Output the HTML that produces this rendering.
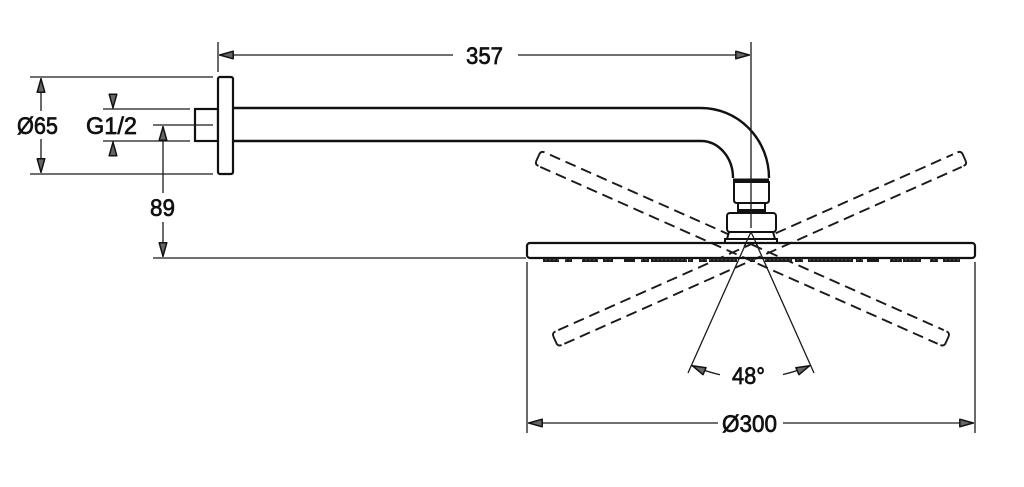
<!DOCTYPE html>
<html><head><meta charset="utf-8"><style>
html,body{margin:0;padding:0;background:#fff;}
svg{display:block;}
text{font-family:"Liberation Sans",sans-serif;font-size:24px;fill:#111;stroke:#111;stroke-width:0.7;}
</style></head><body>
<svg width="1024" height="487" viewBox="0 0 1024 487" xmlns="http://www.w3.org/2000/svg">
<defs>
<marker id="ar" viewBox="0 0 15 10" refX="15" refY="5" markerWidth="15" markerHeight="10" markerUnits="userSpaceOnUse" orient="auto-start-reverse">
<path d="M0.8,1.2 L14.2,5 L0.8,8.8 Z" fill="#666" stroke="#111" stroke-width="1.5" stroke-linejoin="round"/>
</marker>
<pattern id="nz" width="4" height="4" patternUnits="userSpaceOnUse" x="0" y="258">
<rect width="4" height="4" fill="#1a1a1a"/>
<rect x="1.5" y="1.3" width="1" height="1" fill="#999"/>
</pattern>
</defs>
<rect width="1024" height="487" fill="#fff"/>

<!-- dimension/extension lines -->
<g stroke="#1a1a1a" stroke-width="1.3" fill="none">
  <!-- 357 -->
  <line x1="218" y1="42" x2="218" y2="72"/>
  <line x1="751" y1="42" x2="751" y2="106"/>
  <path d="M453,55 L219,55" marker-end="url(#ar)"/>
  <path d="M518,55 L750,55" marker-end="url(#ar)"/>
  <!-- Ø65 -->
  <line x1="30" y1="77" x2="213" y2="77"/>
  <line x1="30" y1="174" x2="213" y2="174"/>
  <path d="M41,111 L41,78" marker-end="url(#ar)"/>
  <path d="M41,139 L41,173" marker-end="url(#ar)"/>
  <!-- G1/2 -->
  <line x1="103" y1="109" x2="190" y2="109"/>
  <line x1="103" y1="141" x2="190" y2="141"/>
  <path d="M113,95 L113,108.5" marker-end="url(#ar)"/>
  <path d="M113,155 L113,141.5" marker-end="url(#ar)"/>
  <!-- 89 -->
  <path d="M163,193 L163,126" marker-end="url(#ar)"/>
  <path d="M163,222 L163,257" marker-end="url(#ar)"/>
  <line x1="153" y1="258" x2="526" y2="258"/>
  <!-- Ø300 -->
  <line x1="527" y1="262" x2="527" y2="433"/>
  <line x1="975" y1="262" x2="975" y2="433"/>
  <path d="M718,423 L528,423" marker-end="url(#ar)"/>
  <path d="M783,423 L974,423" marker-end="url(#ar)"/>
  <!-- 48° -->
  <line x1="751" y1="232" x2="688" y2="373"/>
  <line x1="751" y1="232" x2="814" y2="373"/>
  <path d="M720,374.7 A146,146 0 0 1 691.6,365.4" marker-end="url(#ar)"/>
  <path d="M783,374.5 A146,146 0 0 0 810.4,365.4" marker-end="url(#ar)"/>
</g>

<!-- dashed tilted plates -->
<g stroke="#1a1a1a" stroke-width="1.9" fill="none">
  <g transform="rotate(24 751 229.5)">
    <line x1="537" y1="243" x2="968" y2="243" stroke-dasharray="11 6"/>
    <line x1="533" y1="258" x2="968" y2="258" stroke-dasharray="11 6"/>
    <path d="M531,243 Q527,243 527,247 L527,254 Q527,258 531,258"/>
    <path d="M971,243 Q975,243 975,247 L975,254 Q975,258 971,258"/>
  </g>
  <g transform="rotate(-24 751 229.5)">
    <line x1="534" y1="243" x2="966" y2="243" stroke-dasharray="11 6"/>
    <line x1="534" y1="258" x2="969" y2="258" stroke-dasharray="11 6"/>
    <path d="M531,243 Q527,243 527,247 L527,254 Q527,258 531,258"/>
    <path d="M971,243 Q975,243 975,247 L975,254 Q975,258 971,258"/>
  </g>
</g>

<!-- wall part and arm -->
<g stroke="#111" stroke-width="2.2" fill="#fff">
  <rect x="195" y="109" width="23" height="32"/>
  <rect x="218" y="77" width="15" height="97" rx="2"/>
</g>
<g stroke="#111" stroke-width="2.4" fill="none">
  <path d="M233,108 L701,108 A68,70 0 0 1 769,178"/>
  <path d="M233,141 L701,141 A32,37 0 0 1 733,178"/>
</g>
<line x1="153" y1="125" x2="213" y2="125" stroke="#1a1a1a" stroke-width="1.3"/>

<!-- connector -->
<g stroke="#111" stroke-width="2" fill="#fff">
  <path d="M729,232 L727,239 L775,239 L773,232 Z"/>
  <rect x="725" y="239" width="52" height="4"/>
  <path d="M734,182 L769,182 L769,200 Q769,203 766,203 L737,203 Q734,203 734,200 Z"/>
  <rect x="738" y="203" width="27" height="9"/>
  <rect x="727" y="213" width="49" height="19" rx="3"/>
</g>
<rect x="733" y="178.5" width="36" height="4" fill="#111"/>
<rect x="738" y="209" width="27" height="3.5" fill="#111"/>
<line x1="751" y1="106" x2="751" y2="228" stroke="#1a1a1a" stroke-width="1.3"/>
<line x1="751" y1="232" x2="744" y2="247" stroke="#1a1a1a" stroke-width="1.3"/>
<line x1="751" y1="232" x2="758" y2="247" stroke="#1a1a1a" stroke-width="1.3"/>

<!-- shower plate -->
<rect x="527" y="243" width="448" height="15" rx="3" fill="none" stroke="#111" stroke-width="2.2"/>

<!-- nozzles -->
<g fill="url(#nz)">
  <rect x="543" y="258" width="16" height="4"/>
  <rect x="565" y="258" width="7" height="4"/>
  <rect x="582" y="258" width="16" height="4"/>
  <rect x="603" y="258" width="10" height="4"/>
  <rect x="641" y="258" width="8" height="4"/>
  <rect x="651" y="258" width="36" height="4"/>
  <rect x="688" y="258" width="5" height="4"/>
  <rect x="699" y="258" width="8" height="4"/>
  <rect x="709" y="258" width="28" height="4"/>
  <rect x="750" y="258" width="5" height="4"/>
  <rect x="765" y="258" width="27" height="4"/>
  <rect x="795" y="258" width="8" height="4"/>
  <rect x="808" y="258" width="45" height="4"/>
  <rect x="856" y="258" width="7" height="4"/>
  <rect x="890" y="258" width="12" height="4"/>
  <rect x="903" y="258" width="18" height="4"/>
  <rect x="930" y="258" width="8" height="4"/>
  <rect x="943" y="258" width="17" height="4"/>
</g>
<g fill="#1a1a1a">
  <rect x="624" y="258" width="11" height="4"/>
  <rect x="867" y="258" width="12" height="4"/>
</g>

<!-- labels -->
<text x="466" y="64" textLength="37" lengthAdjust="spacingAndGlyphs">357</text>
<text x="17" y="134" textLength="41" lengthAdjust="spacingAndGlyphs">Ø65</text>
<text x="86" y="134" textLength="51" lengthAdjust="spacingAndGlyphs">G1/2</text>
<text x="150" y="216" textLength="25" lengthAdjust="spacingAndGlyphs">89</text>
<text x="732" y="384" textLength="33" lengthAdjust="spacingAndGlyphs">48°</text>
<text x="722" y="432" textLength="55" lengthAdjust="spacingAndGlyphs">Ø300</text>
</svg>
</body></html>
